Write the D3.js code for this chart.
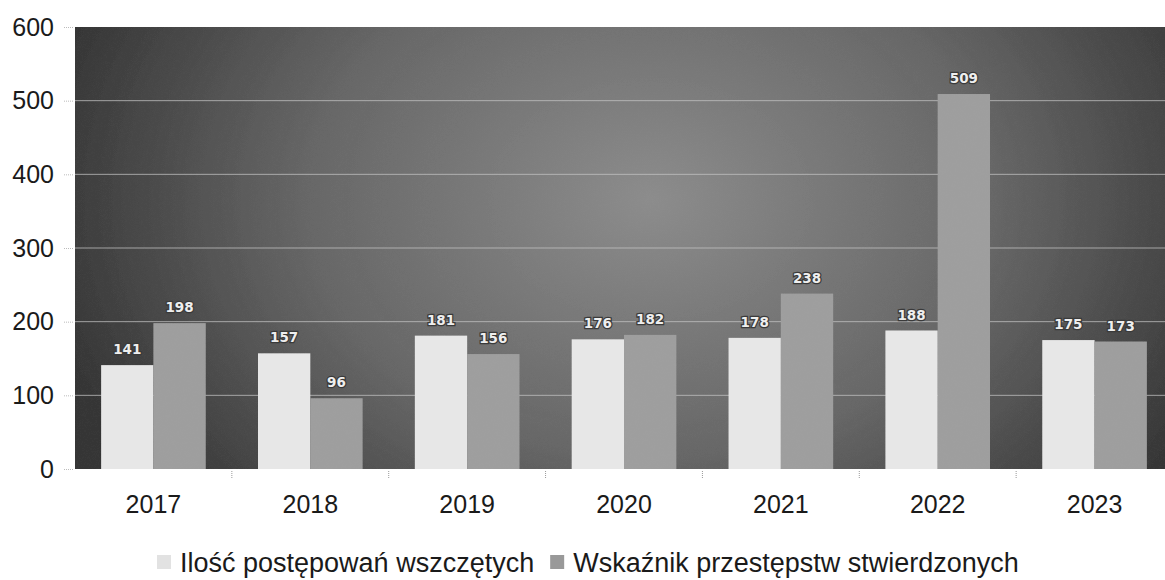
<!DOCTYPE html>
<html>
<head>
<meta charset="utf-8">
<script src="https://cdn.jsdelivr.net/npm/d3@7"></script>
<style>
  body { margin: 0; background: #fff; }
  svg { display: block; font-family: "Liberation Sans", Arial, sans-serif; }
</style>
</head>
<body>
<svg id="chart" width="1165" height="580"></svg>
<script>
// data
const years = ["2017", "2018", "2019", "2020", "2021", "2022", "2023"];
const initiated = [141, 157, 181, 176, 178, 188, 175];   // Ilość postępowań wszczętych
const confirmed = [198, 96, 156, 182, 238, 509, 173];    // Wskaźnik przestępstw stwierdzonych
const seriesNames = ["Ilość postępowań wszczętych", "Wskaźnik przestępstw stwierdzonych"];
const yTicks = [0, 100, 200, 300, 400, 500, 600];

const colours = ["#e7e7e7", "#9e9e9e"];

const svg = d3.select("#chart");
const margin = {top: 27, left: 75, bottom: 111};
const W = 1173, H = 580;           // plot runs a bit past the right edge (cropped scan)
const plotBottom = H - margin.bottom;

const x = d3.scaleBand(years, [margin.left, W]).paddingInner(0).paddingOuter(0);
const xs = d3.scaleBand([0, 1], [0, x.bandwidth()]).paddingOuter(0.5).paddingInner(0);
const y = d3.scaleLinear([0, 600], [plotBottom, margin.top]);

/* ——— background gradient ——— */
const defs = svg.append("defs");
const grad = defs.append("radialGradient")
  .attr("id", "bg")
  .attr("gradientUnits", "userSpaceOnUse")
  .attr("cx", 650).attr("cy", 200).attr("r", 620)
  .attr("gradientTransform", "translate(650,200) scale(1,0.75) translate(-650,-200)");
grad.append("stop").attr("offset", "0%").attr("stop-color", "#8c8c8c");
grad.append("stop").attr("offset", "55%").attr("stop-color", "#676767");
grad.append("stop").attr("offset", "100%").attr("stop-color", "#353535");

const noise = defs.append("filter").attr("id", "grain")
  .attr("x", 0).attr("y", 0).attr("width", 1).attr("height", 1);
noise.append("feTurbulence").attr("type", "fractalNoise")
  .attr("baseFrequency", 0.9).attr("numOctaves", 2).attr("seed", 3).attr("result", "n");
noise.append("feColorMatrix").attr("in", "n").attr("type", "matrix")
  .attr("values", "0 0 0 0 0.5  0 0 0 0 0.5  0 0 0 0 0.5  0 0 0 0.35 0").attr("result", "g");
noise.append("feComposite").attr("in", "g").attr("in2", "SourceGraphic").attr("operator", "in").attr("result", "gm");
noise.append("feBlend").attr("in", "SourceGraphic").attr("in2", "gm").attr("mode", "overlay");

svg.append("rect")
  .attr("x", margin.left).attr("y", margin.top)
  .attr("width", W - margin.left).attr("height", plotBottom - margin.top)
  .attr("fill", "url(#bg)")
  .attr("filter", "url(#grain)");

/* ——— grid ——— */
svg.append("g")
  .selectAll("line").data(yTicks.filter(d => d > 0 && d < 600)).join("line")
    .attr("x1", margin.left).attr("x2", W)
    .attr("y1", d => y(d)).attr("y2", d => y(d))
    .attr("stroke", "#c4c4c4").attr("stroke-width", 1).attr("opacity", 0.75);

/* ——— y axis ——— */
const yAxis = svg.append("g")
  .attr("transform", `translate(${margin.left - 2},0)`)
  .call(d3.axisLeft(y).tickValues(yTicks).tickSize(9).tickPadding(10));
yAxis.select(".domain").remove();
yAxis.selectAll(".tick line").attr("stroke", "#bbb").attr("stroke-dasharray", "1,1");
yAxis.selectAll("text").attr("font-size", 25).attr("fill", "#1a1a1a")
  .attr("font-family", "Liberation Sans, Arial, sans-serif");

/* ——— x axis ——— */
const xAxis = svg.append("g")
  .attr("transform", `translate(0,${plotBottom})`)
  .call(d3.axisBottom(x).tickSize(0).tickPadding(26));
xAxis.select(".domain").remove();
xAxis.selectAll("text").attr("font-size", 25).attr("fill", "#1a1a1a")
  .attr("font-family", "Liberation Sans, Arial, sans-serif");
svg.append("g")
  .selectAll("line").data(years.slice(1)).join("line")
    .attr("x1", d => x(d)).attr("x2", d => x(d))
    .attr("y1", plotBottom + 2).attr("y2", plotBottom + 9)
    .attr("stroke", "#999").attr("stroke-dasharray", "1,1");

/* ——— bars ——— */
const rows = years.flatMap((yr, i) => [
  {year: yr, s: 0, value: initiated[i]},
  {year: yr, s: 1, value: confirmed[i]}
]);

svg.append("g")
  .selectAll("rect").data(rows).join("rect")
    .attr("x", d => x(d.year) + xs(d.s))
    .attr("width", xs.bandwidth())
    .attr("y", d => y(d.value))
    .attr("height", d => y(0) - y(d.value))
    .attr("fill", d => colours[d.s])
    .attr("filter", "url(#grain)");

/* ——— value labels ——— */
svg.append("g")
  .selectAll("text").data(rows).join("text")
    .attr("x", d => x(d.year) + xs(d.s) + xs.bandwidth() / 2)
    .attr("y", d => y(d.value) - 11)
    .attr("text-anchor", "middle")
    .attr("font-family", "DejaVu Sans, sans-serif")
    .attr("font-size", 13.5)
    .attr("font-weight", "bold")
    .attr("fill", "#eeeeee")
    .attr("stroke", "#3a3a3a")
    .attr("stroke-width", 2.5)
    .attr("paint-order", "stroke")
    .text(d => d.value);

/* ——— legend ——— */
const legend = svg.append("g").attr("transform", `translate(0,${H - 8})`);
let lx = 157;
const swatch = ["#e2e2e2", "#999999"];
seriesNames.forEach((name, i) => {
  legend.append("rect")
    .attr("x", lx).attr("y", -17).attr("width", 14).attr("height", 14)
    .attr("fill", swatch[i]);
  const t = legend.append("text")
    .attr("x", lx + 23).attr("y", 0)
    .attr("font-size", 27).attr("fill", "#1a1a1a")
    .text(name);
  lx += 23 + t.node().getComputedTextLength() + 16;
});
</script>
</body>
</html>
